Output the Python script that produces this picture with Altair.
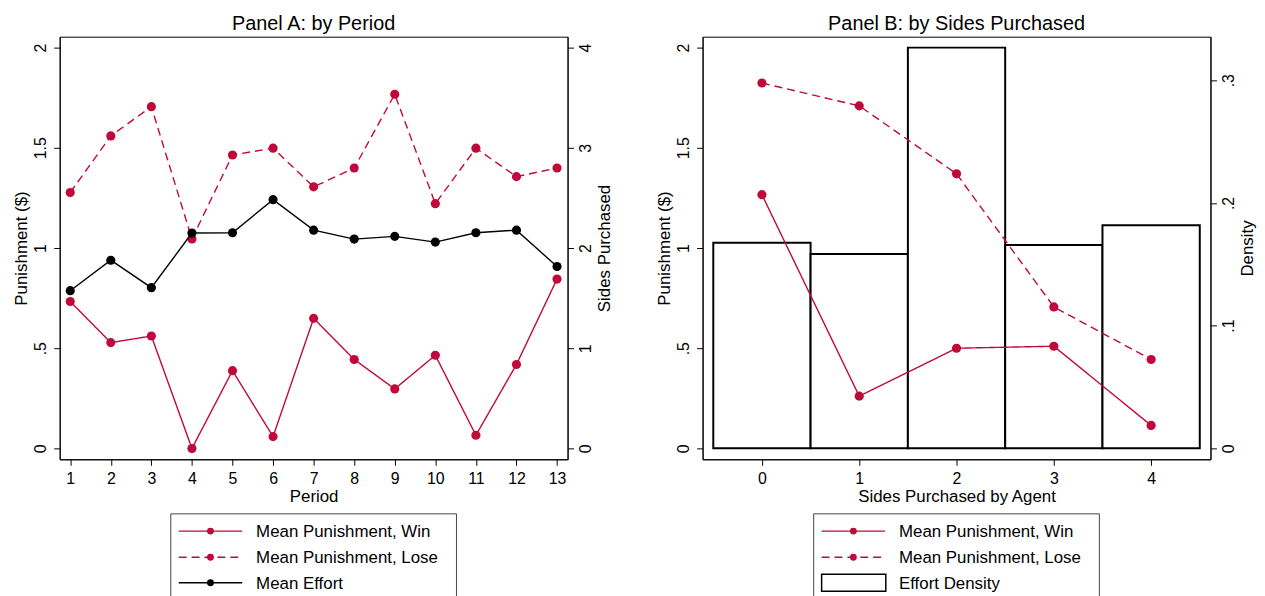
import altair as alt
import pandas as pd

FONT = "Liberation Sans"
RED = "#c1083a"

# ---------------- data ----------------
periods = [1, 2, 3, 4, 5, 6, 7, 8, 9, 10, 11, 12, 13]
win_a = [0.733, 0.528, 0.561, 0.0, 0.388, 0.059, 0.649, 0.444, 0.297, 0.465, 0.066, 0.419, 0.845]
lose_a = [1.277, 1.559, 1.705, 1.045, 1.464, 1.498, 1.305, 1.399, 1.767, 1.221, 1.498, 1.356, 1.399]
effort_a = [1.574, 1.878, 1.604, 2.149, 2.152, 2.482, 2.178, 2.089, 2.116, 2.059, 2.152, 2.178, 1.815]

sides = [0, 1, 2, 3, 4]
win_b = [1.266, 0.261, 0.500, 0.510, 0.115]
lose_b = [1.823, 1.709, 1.370, 0.706, 0.444]
density_b = [0.1676, 0.1584, 0.3266, 0.1657, 0.1819]

punish_ticks = [0, 0.5, 1, 1.5, 2]
effort_ticks = [0, 1, 2, 3, 4]
density_ticks = [0, 0.1, 0.2, 0.3]

titles = ["Panel A: by Period", "Panel B: by Sides Purchased"]
legend_a = ["Mean Punishment, Win", "Mean Punishment, Lose", "Mean Effort"]
legend_b = ["Mean Punishment, Win", "Mean Punishment, Lose", "Effort Density"]

W, H = 512, 426

LABEL_EXPR = ("datum.value == 0 ? '0' : (abs(datum.value) < 1 ? "
              "substring(format(datum.value, ''), 1) : format(datum.value, ''))")


def x_axis(title, values):
    return alt.Axis(title=title, values=values, tickSize=6, labelPadding=5,
                    labelAngle=0, labelFlush=False, labelOverlap=False, grid=False,
                    titleX=W / 2, titleY=42.7, titleAlign="center",
                    titleBaseline="alphabetic")


def y_left(title, values):
    return alt.Axis(title=title, orient="left", values=values, labelExpr=LABEL_EXPR,
                    labelAngle=270, labelAlign="center", labelBaseline="middle",
                    labelPadding=13.5, tickSize=6, grid=False, labelFlush=False,
                    labelOverlap=False, titleAngle=270, titleAlign="center",
                    titleBaseline="middle", titleX=-38, titleY=H / 2)


def y_right(title, values, expr):
    return alt.Axis(title=title, orient="right", values=values, labelExpr=expr,
                    labelAngle=270, labelAlign="center", labelBaseline="middle",
                    labelPadding=12.2, tickSize=6, grid=False, labelFlush=False,
                    labelOverlap=False, titleAngle=270, titleAlign="center",
                    titleBaseline="middle", titleX=37.5, titleY=H / 2)


punish_scale = alt.Scale(domain=[-0.054, 2.054], nice=False, zero=False)
effort_scale = alt.Scale(domain=[-0.108, 4.108], nice=False, zero=False)
density_scale = alt.Scale(domain=[-0.0089, 0.3355], nice=False, zero=False)
xa_scale = alt.Scale(domain=[0.74, 13.26], nice=False, zero=False)
xb_scale = alt.Scale(domain=[-0.61, 4.61], nice=False, zero=False)

dash_scale = alt.Scale(domain=["Win", "Lose"], range=[[1, 0], [8, 5]])

ROWS = [498.4, 524.7, 550.4]
LW = 1.4
PT = 85


def legend_layers(labels, kinds):
    layers = [alt.Chart(pd.DataFrame({"k": [0]})).mark_rect(
        fill="white", stroke="#444444", strokeWidth=1).encode(
        x=alt.value(112), x2=alt.value(400), y=alt.value(481), y2=alt.value(575))]
    for lab, kind, ry in zip(labels, kinds, ROWS):
        d = pd.DataFrame({"label": [lab]})
        if kind == "rect":
            layers.append(alt.Chart(d).mark_rect(fill="white", stroke="black", strokeWidth=1.5).encode(
                x=alt.value(120), x2=alt.value(184.7), y=alt.value(ry - 8.6), y2=alt.value(ry + 8.6)))
        else:
            color, dash = kind
            layers.append(alt.Chart(d).mark_rule(color=color, strokeWidth=LW, strokeDash=dash).encode(
                x=alt.value(120), x2=alt.value(184), y=alt.value(ry)))
            layers.append(alt.Chart(d).mark_point(filled=True, size=48, color=color, opacity=1).encode(
                x=alt.value(152), y=alt.value(ry)))
        layers.append(alt.Chart(d).mark_text(align="left", baseline="middle", fontSize=17,
                                             font=FONT, color="black").encode(
            x=alt.value(198), y=alt.value(ry + 1), text="label:N"))
    return layers


def title_layer(text):
    return alt.Chart(pd.DataFrame({"t": [text]})).mark_text(
        align="center", baseline="alphabetic", fontSize=20, font=FONT, color="black"
    ).encode(x=alt.value(W / 2), y=alt.value(-6.6), text="t:N")


# ---------------- Panel A ----------------
df_pa = pd.DataFrame({"period": periods * 2, "value": win_a + lose_a,
                      "series": ["Win"] * len(periods) + ["Lose"] * len(periods)})
df_ea = pd.DataFrame({"period": periods, "effort": effort_a})

xa = alt.X("period:Q", scale=xa_scale, axis=x_axis("Period", periods))
ya = alt.Y("value:Q", scale=punish_scale, axis=y_left("Punishment ($)", punish_ticks))
ye = alt.Y("effort:Q", scale=effort_scale, axis=y_right("Sides Purchased", effort_ticks, "format(datum.value, '')"))

pa_line = alt.Chart(df_pa).mark_line(color=RED, strokeWidth=LW).encode(
    x=xa, y=ya, strokeDash=alt.StrokeDash("series:N", scale=dash_scale, legend=None))
pa_pts = alt.Chart(df_pa).mark_point(filled=True, size=PT, color=RED, opacity=1).encode(x=xa, y=ya)
punish_a = alt.layer(pa_line, pa_pts)

ea_line = alt.Chart(df_ea).mark_line(color="black", strokeWidth=LW).encode(x=xa, y=ye)
ea_pts = alt.Chart(df_ea).mark_point(filled=True, size=PT, color="black", opacity=1).encode(x=xa, y=ye)
effort_layer = alt.layer(ea_line, ea_pts)

panel_a = alt.layer(
    punish_a, effort_layer, title_layer(titles[0]),
    *legend_layers(legend_a, [(RED, [1, 0]), (RED, [8, 5]), ("black", [1, 0])])
).resolve_scale(y="independent").properties(width=W, height=H)

# ---------------- Panel B ----------------
df_pb = pd.DataFrame({"side": sides * 2, "value": win_b + lose_b,
                      "series": ["Win"] * len(sides) + ["Lose"] * len(sides)})
df_db = pd.DataFrame({"side": sides, "density": density_b})

xb_axis = x_axis("Sides Purchased by Agent", sides)
xb = alt.X("side:Q", scale=xb_scale, axis=xb_axis)
yb = alt.Y("value:Q", scale=punish_scale, axis=y_left("Punishment ($)", punish_ticks))

bars = alt.Chart(df_db).transform_calculate(
    lo="datum.side - 0.5", hi="datum.side + 0.5"
).mark_bar(fill="white", stroke="black", strokeWidth=2).encode(
    x=alt.X("lo:Q", scale=xb_scale, axis=xb_axis),
    x2="hi:Q",
    y=alt.Y("density:Q", scale=density_scale, axis=y_right("Density", density_ticks, LABEL_EXPR)),
    y2=alt.datum(0))

pb_line = alt.Chart(df_pb).mark_line(color=RED, strokeWidth=LW).encode(
    x=xb, y=yb, strokeDash=alt.StrokeDash("series:N", scale=dash_scale, legend=None))
pb_pts = alt.Chart(df_pb).mark_point(filled=True, size=PT, color=RED, opacity=1).encode(x=xb, y=yb)
punish_b = alt.layer(pb_line, pb_pts)

panel_b = alt.layer(
    bars, punish_b, title_layer(titles[1]),
    *legend_layers(legend_b, [(RED, [1, 0]), (RED, [8, 5]), "rect"])
).resolve_scale(y="independent").properties(width=W, height=H)

chart = alt.hconcat(panel_a, panel_b, spacing=42.1).properties(
    padding={"left": 4.1, "top": 2.5, "right": 0, "bottom": 0}
).configure_view(stroke="black", strokeWidth=1).configure_axis(
    domainColor="black", domainWidth=1, tickColor="black", tickWidth=1,
    labelColor="black", titleColor="black", labelFont=FONT, titleFont=FONT,
    labelFontSize=16, titleFontSize=17, titleFontWeight="normal"
)

chart.save("out.html", embed_options={"renderer": "svg", "actions": False})
